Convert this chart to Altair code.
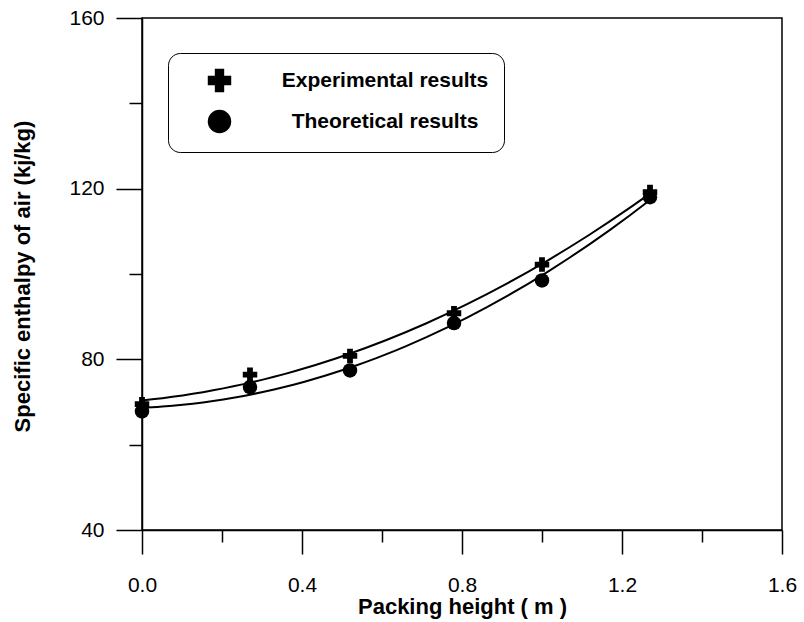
import altair as alt
import pandas as pd

# Measured values along the packing
height_m = [0.0, 0.27, 0.52, 0.78, 1.0, 1.27]
experimental = [69.5, 76.4, 80.8, 90.8, 102.2, 119.2]
theoretical = [67.8, 73.5, 77.4, 88.5, 98.5, 118.0]
series_names = ["Experimental results", "Theoretical results"]

# Axis tick positions (major + minor)
x_ticks = [0, 0.2, 0.4, 0.6, 0.8, 1.0, 1.2, 1.4, 1.6]
y_ticks = [40, 60, 80, 100, 120, 140, 160]

rows = []
for name, vals in zip(series_names, [experimental, theoretical]):
    for h, v in zip(height_m, vals):
        rows.append({"height": h, "enthalpy": v, "series": name})
df = pd.DataFrame(rows)

FONT = "Liberation Sans"

x_scale = alt.Scale(domain=[0, 1.6], nice=False, zero=False)
y_scale = alt.Scale(domain=[40, 160], nice=False, zero=False)

x_axis = alt.Axis(
    values=x_ticks,
    labelExpr="round(datum.value * 5) % 2 == 0 ? format(datum.value, '.1f') : ''",
    tickSize={"condition": {"test": "round(datum.value * 5) % 2 == 1", "value": 12}, "value": 24},
    labelFlush=False,
    labelBaseline="alphabetic",
    labelPadding=37,
    title="Packing height ( m )",
    titleX=320,
    titleY=66,
    titleBaseline="top",
)

y_axis = alt.Axis(
    values=y_ticks,
    labelExpr="datum.value % 40 == 0 ? datum.label : ''",
    tickSize={"condition": {"test": "datum.value % 40 != 0", "value": 13}, "value": 26},
    labelFlush=False,
    labelPadding=12,
    title="Specific enthalpy of air (kj/kg)",
    titleX=-113,
    titleY=258,
    titleBaseline="alphabetic",
)

fit_lines = alt.Chart(df).transform_regression(
    "height", "enthalpy", method="poly", order=2, groupby=["series"]
).mark_line(color="black", strokeWidth=2).encode(
    x=alt.X("height:Q", scale=x_scale, axis=x_axis),
    y=alt.Y("enthalpy:Q", scale=y_scale, axis=y_axis),
    detail="series:N",
)

points = alt.Chart(df).mark_point(filled=True, size=210, color="black", opacity=1).encode(
    x=alt.X("height:Q", scale=x_scale, axis=x_axis),
    y=alt.Y("enthalpy:Q", scale=y_scale, axis=y_axis),
    shape=alt.Shape(
        "series:N",
        scale=alt.Scale(domain=series_names, range=["cross", "circle"]),
        legend=alt.Legend(
            title=None,
            orient="none",
            legendX=26,
            legendY=35,
            padding=15,
            strokeColor="black",
            fillColor="white",
            cornerRadius=12,
            symbolFillColor="black",
            symbolStrokeColor="black",
            symbolOpacity=1,
            symbolSize=550,
            symbolOffset=24,
            labelAlign="center",
            labelOffset=153,
            labelFont=FONT,
            labelFontSize=21,
            labelFontWeight="bold",
            labelColor="black",
            labelLimit=400,
            rowPadding=10,
            zindex=1,
        ),
    ),
)

chart = alt.layer(fit_lines, points).properties(
    width=640,
    height=512,
    autosize=alt.AutoSizeParams(type="none"),
    padding={"left": 142, "top": 18, "right": 22, "bottom": 92},
).configure(
    background="white",
).configure_view(
    stroke="black",
    strokeWidth=1.5,
).configure_axis(
    grid=False,
    domainColor="black",
    domainWidth=1.5,
    tickColor="black",
    tickWidth=1.5,
    labelFont=FONT,
    labelFontSize=21,
    labelColor="black",
    titleFont=FONT,
    titleFontSize=22,
    titleFontWeight="bold",
    titleColor="black",
)

chart.save("out.html", embed_options={"renderer": "svg", "actions": False})
